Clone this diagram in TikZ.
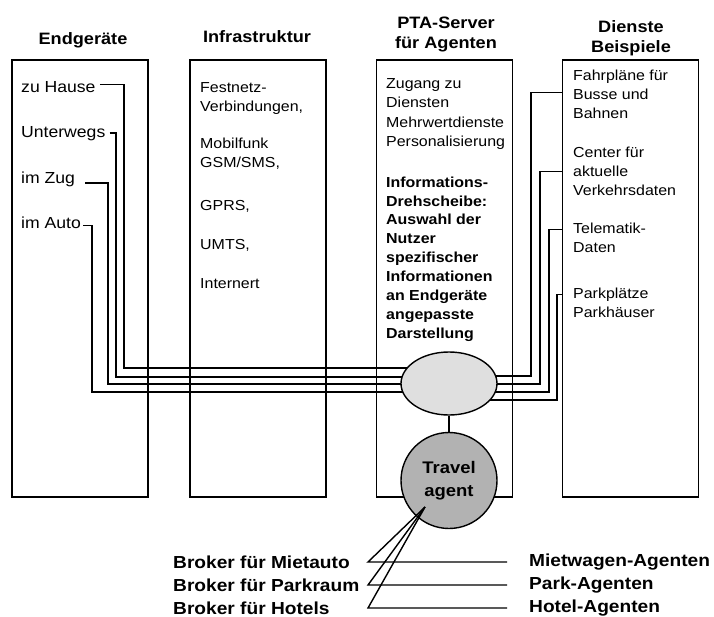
\documentclass[tikz,border=0pt]{standalone}
\usepackage{fontspec}
\setmainfont{Liberation Sans}[FakeStretch=1.1]
\usetikzlibrary{shapes.geometric,backgrounds}
\tikzset{
  panel/.style={draw, line width=1.4pt, minimum width=136pt, minimum height=437pt, inner sep=0pt},
  head/.style={font=\fontsize{16.5}{20}\selectfont\bfseries, align=center, inner sep=0pt},
  entry/.style={font=\fontsize{16}{19.3}\selectfont, inner sep=0pt, anchor=base west},
  blurb/.style={font=\fontsize{14.5}{19.3}\selectfont, inner sep=0pt, anchor=north west, align=left},
  blurbbf/.style={blurb, font=\fontsize{14.5}{18.9}\selectfont\bfseries},
  wire/.style={line width=1.4pt},
  hub/.style={ellipse, draw, line width=1.4pt, fill=gray!25, minimum width=96pt, minimum height=63pt},
  agent/.style={ellipse, draw, line width=1.4pt, fill=gray!60, minimum width=96pt, minimum height=96pt,
    inner sep=0pt, align=center, font=\fontsize{16.8}{23}\selectfont\bfseries},
  broker/.style={font=\fontsize{17.4}{22}\selectfont\bfseries, inner sep=0pt, anchor=west},
}
\begin{document}
\begin{tikzpicture}[x=1pt, y=-1pt]
  \useasboundingbox (0,0) rectangle (714,617);
  \node[panel] (geraete) at (80,278.5) {};
  \node[panel] (infra) at (258,278.5) {};
  \node[panel] (server) at (444.5,278.5) {};
  \node[panel] (dienste) at (630.5,278.5) {};
  \node[head, anchor=base] (hGeraete) at (83,45) {Endgeräte};
  \node[head, anchor=base] (hInfra) at (257,43) {Infrastruktur};
  \node[head, anchor=north] (hServer) at (446,17.2) {PTA-Server\\für Agenten};
  \node[head, anchor=north] (hDienste) at (631,20) {Dienste\\Beispiele};
  \node[entry] (hause) at (21,93) {zu Hause};
  \node[entry] (unterwegs) at (21,138) {Unterwegs};
  \node[entry] (zug) at (21,184) {im Zug};
  \node[entry] (auto) at (21,229) {im Auto};
  \node[blurb] (netze) at (200,82.4) {Festnetz-\\Verbindungen,\\[17pt]Mobilfunk\\GSM/SMS,\\[24pt]GPRS,\\[19pt]UMTS,\\[20pt]Internert};
  \node[blurb] (zugang) at (386,78.4) {Zugang zu\\Diensten\\Mehrwertdienste\\Personalisierung};
  \node[blurbbf] (drehscheibe) at (386,176.4) {Informations-\\Drehscheibe:\\Auswahl der\\Nutzer\\spezifischer\\Informationen\\an Endgeräte\\angepasste\\Darstellung};
  \node[blurb, font=\fontsize{14.5}{19}\selectfont] (fahrplan) at (573,69.4) {Fahrpläne für\\Busse und\\Bahnen};
  \node[blurb, font=\fontsize{14.5}{19}\selectfont] (verkehr) at (573,146.4) {Center für\\aktuelle\\Verkehrsdaten};
  \node[blurb, font=\fontsize{14.5}{19.5}\selectfont] (telematik) at (573,222.4) {Telematik-\\Daten};
  \node[blurb, font=\fontsize{14.5}{19}\selectfont] (parken) at (573,287.4) {Parkplätze\\Parkhäuser};
  \node[hub] (hub) at (449,383.5) {};
  \begin{scope}[on background layer]
    \foreach \n/\dx/\dy/\tx/\ty in {hause/4/3/124/368, unterwegs/4/1/116/377, zug/10/-3/108/384, auto/2/-2/92/392}
      \draw[wire] ([xshift=\dx pt, yshift=\dy pt]\n.east) -| (\tx,\ty) coordinate (k) -- (k -| hub.center);
    \foreach \dy/\tx/\ty in {33/531/376, 112/540/384, 170/549/392, 235/557/400}
      \draw[wire] ([yshift=-\dy pt]dienste.north west) -| (\tx,\ty) coordinate (k) -- (k -| hub.center);
  \end{scope}
  \node[agent] (travel) at (449,480.5) {Travel\\agent};
  \draw[wire] (hub) -- (travel);
  \node[broker] (bMiet) at (173,562) {Broker für Mietauto};
  \node[broker] (bPark) at (173,585) {Broker für Parkraum};
  \node[broker] (bHotel) at (173,608) {Broker für Hotels};
  \node[broker] (aMiet) at (529,562) {Mietwagen-Agenten};
  \node[broker] (aPark) at (529,585) {Park-Agenten};
  \node[broker] (aHotel) at (529,608) {Hotel-Agenten};
  \coordinate (apex) at (425,507);
  \coordinate (knee) at (368,0);
  \coordinate (tail) at (507,0);
  \foreach \b/\a in {bMiet/aMiet, bPark/aPark, bHotel/aHotel}
    \draw[wire] (apex) -- (\b.east -| knee) -- (\a.west -| tail);
\end{tikzpicture}
\end{document}
